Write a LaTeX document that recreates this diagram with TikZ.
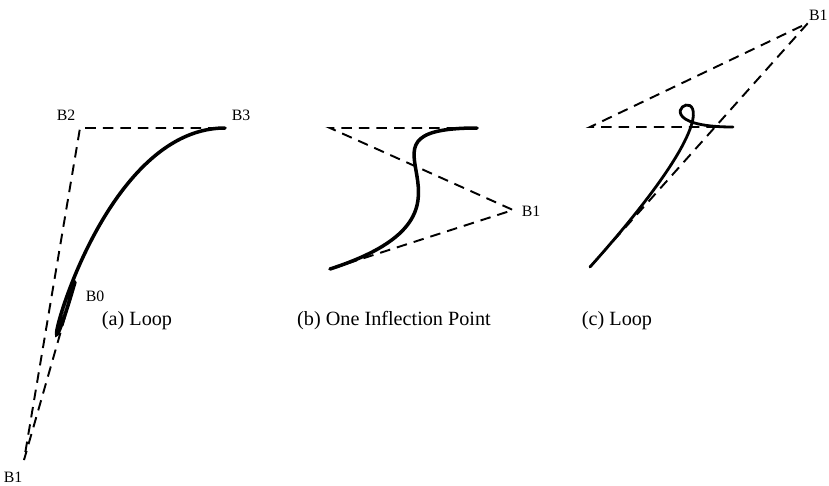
\documentclass[tikz,border=0pt]{standalone}
\usepackage{fontspec}
\setmainfont{Liberation Serif}
\usetikzlibrary{positioning,calc}
\tikzset{
  ctrlpoly/.style={draw=black, line width=1.1pt, dash pattern=on 6pt off 4pt},
  bezcurve/.style={draw=black, line width=2pt, line cap=round},
  ptlabel/.style={font=\fontsize{9}{10}\selectfont, inner sep=0pt},
  caption/.style={font=\fontsize{11.5}{13}\selectfont, inner sep=0pt}
}

\begin{document}
\begin{tikzpicture}[x=0.02cm, y=-0.02cm]
    \useasboundingbox (0,0) rectangle (829,485);

    % (a) loop
    \coordinate (A0) at (75,282);
    \coordinate (A1) at (24,460);
    \coordinate (A2) at (80,128);
    \coordinate (A3) at (225,128);
    \draw[ctrlpoly] (A0) -- (A1) -- (A2) -- (A3);
    \draw[bezcurve] (A0) .. controls (A1) and (A2) .. (A3);
    \node[ptlabel] (labA0) at (95,296) {B0};
    \node[ptlabel] (labA1) at (13,477) {B1};
    \node[ptlabel] (labA2) at (66,115) {B2};
    \node[ptlabel] (labA3) at (241,115) {B3};
    \node[caption] (capA) at (137,321) {(a) Loop};

    % (b) one inflection point
    \coordinate (B0) at (330,269);
    \coordinate (B1) at (513,210);
    \coordinate (B2) at (330,128);
    \coordinate (B3) at (477,128);
    \draw[ctrlpoly] (B0) -- (B1) -- (B2) -- (B3);
    \draw[bezcurve] (B0) .. controls (B1) and (B2) .. (B3);
    \node[ptlabel] (labB1) at (531,211) {B1};
    \node[caption] (capB) at (394,321) {(b) One Inflection Point};

    % (c) loop
    \coordinate (C0) at (590,267);
    \coordinate (C1) at (808,23);
    \coordinate (C2) at (590,127);
    \coordinate (C3) at (733,127);
    \draw[ctrlpoly] (C0) -- (C1) -- (C2) -- (C3);
    \draw[bezcurve, line width=1.6pt] (C0) .. controls (C1) and (C2) .. (C3);
    \node[ptlabel, anchor=east] (labC1) at (828,15) {B1};
    \node[caption] (capC) at (617,321) {(c) Loop};
\end{tikzpicture}
\end{document}
